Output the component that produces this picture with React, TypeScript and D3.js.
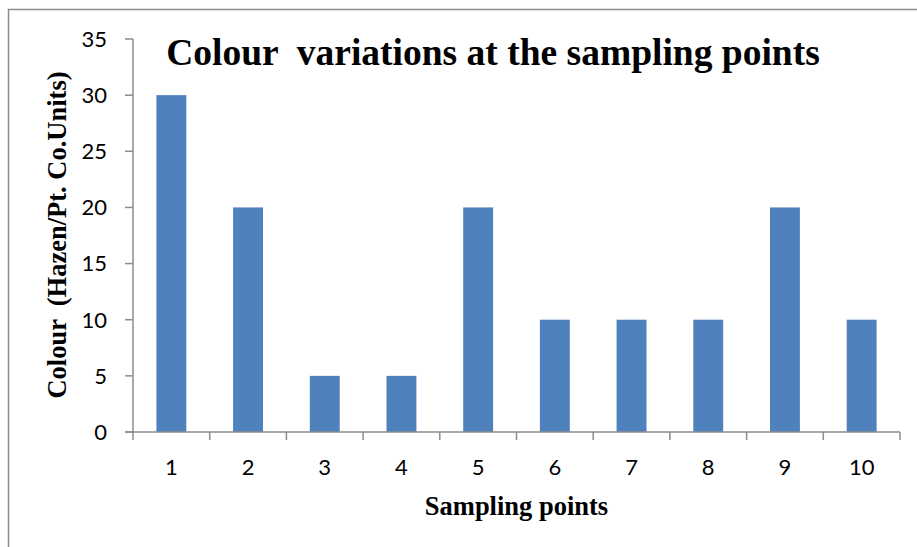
import React from "react";
import * as d3 from "d3";

const categories = ["1", "2", "3", "4", "5", "6", "7", "8", "9", "10"];
const values = [30, 20, 5, 5, 20, 10, 10, 10, 20, 10];
const yTicks = [0, 5, 10, 15, 20, 25, 30, 35];
const title = "Colour  variations at the sampling points";
const yLabel = "Colour  (Hazen/Pt. Co.Units)";
const xLabel = "Sampling points";

export default function App() {
  const W = 917, H = 547;
  const left = 133, right = 900, top = 39, bottom = 432;
  const x = d3.scaleBand().domain(categories).range([left, right]).paddingInner(0.61).paddingOuter(0.305);
  const xb = d3.scaleBand().domain(categories).range([left, right]);
  const y = d3.scaleLinear().domain([0, 35]).range([bottom, top]);
  const axisColor = "#8c8c8c";
  const serif = "'Liberation Serif', 'Times New Roman', serif";
  const sans = "Lato, 'Open Sans', sans-serif";
  return (
    <svg width={W} height={H} style={{ position: "absolute", left: 0, top: 0 }}>
      <rect x={0} y={0} width={W} height={H} fill="#fff" />
      <rect x={8.5} y={9.5} width={W} height={H} fill="none" stroke="#8c8c8c" strokeWidth={1.5} />
      {values.map((v, i) => (
        <rect key={i} x={x(categories[i])} y={y(v)} width={x.bandwidth()} height={y(0) - y(v)} fill="#4F81BD" />
      ))}
      <line x1={left} x2={left} y1={top} y2={bottom} stroke={axisColor} strokeWidth={1.5} />
      <line x1={left - 8} x2={right} y1={bottom} y2={bottom} stroke={axisColor} strokeWidth={1.5} />
      {yTicks.map((t) => (
        <g key={t}>
          <line x1={left - 8} x2={left} y1={y(t)} y2={y(t)} stroke={axisColor} strokeWidth={1.5} />
          <text x={107} y={y(t)} dy="0.36em" textAnchor="end" fontFamily={sans} fontSize={22} fill="#000">{t}</text>
        </g>
      ))}
      {categories.map((c) => (
        <line key={"t" + c} x1={xb(c)} x2={xb(c)} y1={bottom} y2={bottom + 8} stroke={axisColor} strokeWidth={1.5} />
      ))}
      <line x1={right} x2={right} y1={bottom} y2={bottom + 8} stroke={axisColor} strokeWidth={1.5} />
      {categories.map((c) => (
        <text key={"l" + c} x={(xb(c) as number) + xb.bandwidth() / 2} y={467} dy="0.36em" textAnchor="middle" fontFamily={sans} fontSize={22} fill="#000">{c}</text>
      ))}
      <text x={493} y={65} textAnchor="middle" fontFamily={serif} fontWeight="bold" fontSize={37.5} fill="#000" style={{ whiteSpace: "pre" }}>{title}</text>
      <text transform={`translate(66,235) rotate(-90)`} textAnchor="middle" fontFamily={serif} fontWeight="bold" fontSize={26.5} fill="#000" style={{ whiteSpace: "pre" }}>{yLabel}</text>
      <text x={516.5} y={515} textAnchor="middle" fontFamily={serif} fontWeight="bold" fontSize={26.5} fill="#000">{xLabel}</text>
    </svg>
  );
}
